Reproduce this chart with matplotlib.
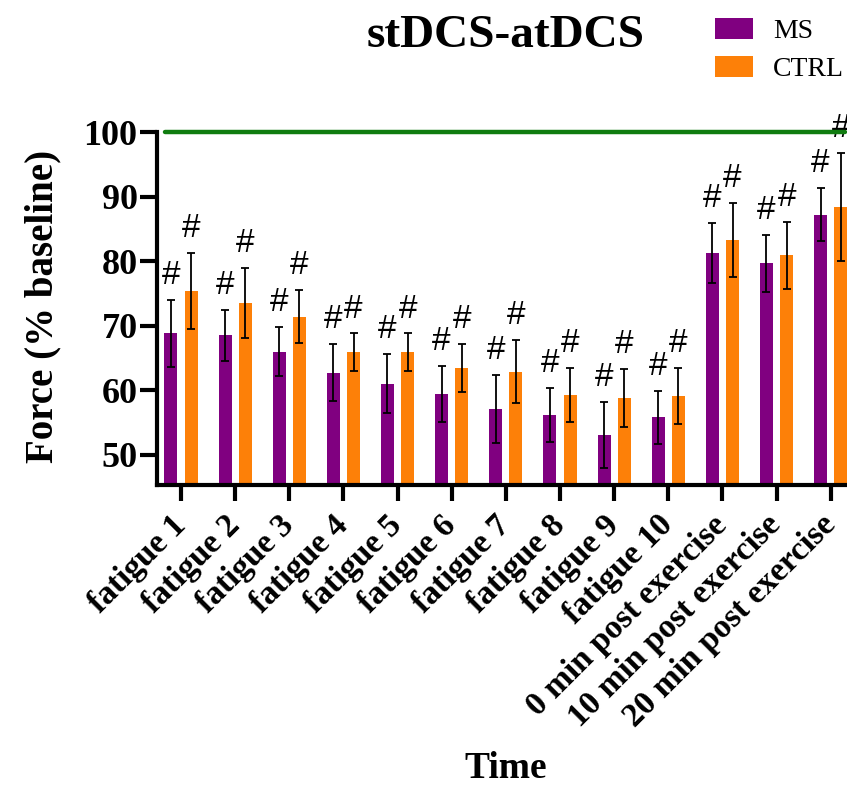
import matplotlib
matplotlib.use("Agg")
import matplotlib.pyplot as plt
import numpy as np

categories = ["fatigue 1", "fatigue 2", "fatigue 3", "fatigue 4", "fatigue 5",
              "fatigue 6", "fatigue 7", "fatigue 8", "fatigue 9", "fatigue 10",
              "0 min post exercise", "10 min post exercise", "20 min post exercise"]
ms = [68.8, 68.5, 66.0, 62.7, 61.0, 59.4, 57.1, 56.2, 53.0, 55.8, 81.3, 79.7, 87.2]
ms_err = [5.2, 3.9, 3.8, 4.4, 4.6, 4.3, 5.3, 4.2, 5.1, 4.1, 4.7, 4.4, 4.1]
ctrl = [75.4, 73.5, 71.4, 65.9, 65.9, 63.5, 62.9, 59.2, 58.8, 59.1, 83.3, 80.9, 88.4]
ctrl_err = [5.9, 5.4, 4.1, 2.9, 2.9, 3.7, 4.9, 4.2, 4.5, 4.4, 5.7, 5.2, 8.4]
yticks = [50, 60, 70, 80, 90, 100]
baseline = 100

PURPLE = "#800080"
ORANGE = "#fd8008"
GREEN = "#107c10"
SERIF = "Liberation Serif"

fig = plt.figure(figsize=(8.47, 7.85), dpi=100)
ax = fig.add_axes([157 / 847, 1 - 485 / 785, 1 - 157 / 847, (485 - 132.3) / 785])

x = np.arange(len(categories))
off = 0.187
w = 0.24
ybot = 45.3
b1 = ax.bar(x - off, np.array(ms) - ybot, w, bottom=ybot, color=PURPLE, label="MS", zorder=2)
b2 = ax.bar(x + off, np.array(ctrl) - ybot, w, bottom=ybot, color=ORANGE, label="CTRL", zorder=2)
ax.errorbar(x - off, ms, yerr=ms_err, fmt="none", ecolor="black", elinewidth=1.3,
            capsize=2.6, capthick=1.3, zorder=3)
ax.errorbar(x + off, ctrl, yerr=ctrl_err, fmt="none", ecolor="black", elinewidth=1.3,
            capsize=2.6, capthick=1.3, zorder=3)

for xi, v, e in zip(x - off, ms, ms_err):
    ax.annotate("#", (xi, v + e), xytext=(0, 11.5), textcoords="offset points",
                ha="center", va="baseline", fontsize=24, family="Liberation Sans",
                annotation_clip=False)
for xi, v, e in zip(x + off, ctrl, ctrl_err):
    ax.annotate("#", (xi, v + e), xytext=(0, 11.5), textcoords="offset points",
                ha="center", va="baseline", fontsize=24, family="Liberation Sans",
                annotation_clip=False)

ax.hlines(baseline, -0.296, 12.27, colors=GREEN, linewidth=3.2, zorder=4,
          clip_on=False, capstyle="round")

ax.set_xlim(-0.443, 12.301)
ax.set_ylim(ybot, 100)
ax.set_yticks(yticks)
ax.set_yticklabels([str(t) for t in yticks], fontsize=26, fontweight="bold", family=SERIF)
ax.set_xticks(x)
ax.set_xticklabels(categories, rotation=45, ha="right", va="center",
                   rotation_mode="anchor", fontsize=24, fontweight="bold", family=SERIF)
ax.tick_params(axis="y", length=12, width=3, pad=2)
ax.tick_params(axis="x", length=11.5, width=3, pad=14)
for s in ["top", "right"]:
    ax.spines[s].set_visible(False)
for s in ["left", "bottom"]:
    ax.spines[s].set_linewidth(3)

fig.text(506 / 847, 1 - 46.7 / 785, "stDCS-atDCS", ha="center", va="baseline",
         fontsize=34, fontweight="bold", family=SERIF)
fig.text(43 / 847, 1 - 306 / 785, "Force (% baseline)", ha="center", va="center",
         rotation=90, fontsize=28, fontweight="bold", family=SERIF)
fig.text(506 / 847, 1 - 778 / 785, "Time", ha="center", va="baseline",
         fontsize=27, fontweight="bold", family=SERIF)

leg = ax.legend(handles=[b1, b2], loc="upper left",
                bbox_to_anchor=(715 / 847, 1 - 18.3 / 785), bbox_transform=fig.transFigure,
                frameon=False, prop={"family": SERIF, "size": 20},
                handlelength=1.36, handleheight=0.79, handletextpad=0.73,
                labelspacing=0.41, borderpad=0, borderaxespad=0)

fig.savefig("out.png", dpi=100)
